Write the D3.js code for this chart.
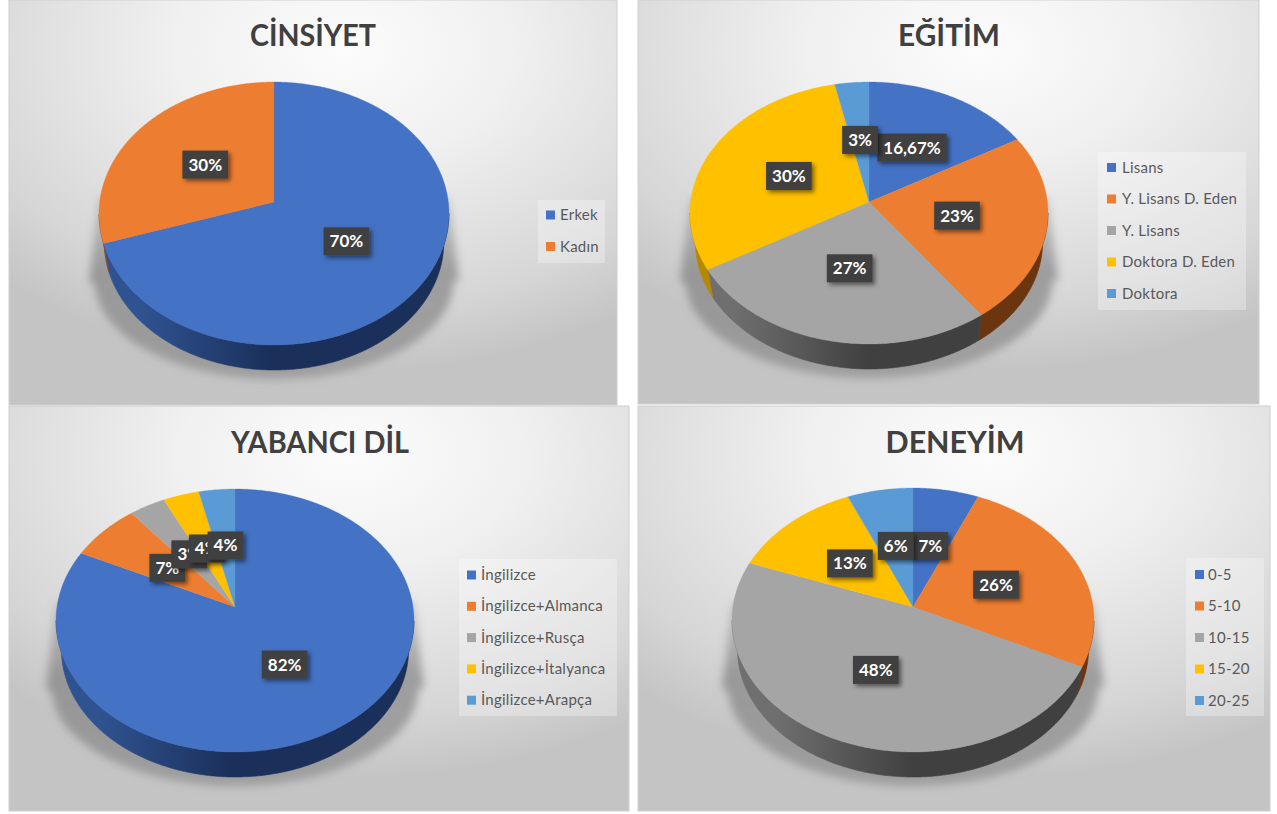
<!DOCTYPE html>
<html><head><meta charset="utf-8">
<script src="https://cdnjs.cloudflare.com/ajax/libs/d3/7.8.5/d3.min.js"></script>
<style>html,body{margin:0;padding:0;background:#fff}svg{display:block}text{font-family:Lato,"Noto Sans",sans-serif}</style>
</head><body><svg id="c" width="1277" height="814"></svg>
<script>
// ---- data ----
const titles = ["CİNSİYET","EĞİTİM","YABANCI DİL","DENEYİM"];
const cinsiyetCats = ["Erkek","Kadın"];
const cinsiyetVals = [70,30];
const cinsiyetLabels = ["70%","30%"];
const egitimCats = ["Lisans","Y. Lisans D. Eden","Y. Lisans","Doktora D. Eden","Doktora"];
const egitimVals = [16.67,23.33,26.67,30,3.33];
const egitimLabels = ["16,67%","23%","27%","30%","3%"];
const dilCats = ["İngilizce","İngilizce+Almanca","İngilizce+Rusça","İngilizce+İtalyanca","İngilizce+Arapça"];
const dilVals = [82.1,7.1,3.6,3.6,3.6];
const dilLabels = ["82%","7%","3%","4%","4%"];
const deneyimCats = ["0-5","5-10","10-15","15-20","20-25"];
const deneyimVals = [6.45,25.8,48.4,12.9,6.45];
const deneyimLabels = ["7%","26%","48%","13%","6%"];
const colors = ["#4472C4","#ED7D31","#A5A5A5","#FFC000","#5B9BD5"];
const wallLeft = ["#2f5391","#8a4a1c","#6f6f6f","#b58800","#3a6ea0"];
const wallRight = ["#1a2f59","#6a350f","#404040","#8a6800","#2a5078"];

// ---- layout ----
const layouts = [
 {x:9,y:0,w:608,h:405,cx:274,rx:175,top:82,bot:345,pc:202,depth:25,tx:313,ty:46,tw:126,
  lg:{x:538,y:200,w:67,h:63,mx:546,tx:560,y0:215,dy:31.5}},
 {x:638,y:0,w:621,h:404,cx:869,rx:179,top:82,bot:344,pc:202,depth:25,tx:949,ty:46,tw:102,
  lg:{x:1098,y:152,w:148,h:158,mx:1107,tx:1122,y0:167.5,dy:31.5}},
 {x:9,y:406,w:620,h:405,cx:235,rx:179,top:489,bot:752,pc:607,depth:25,tx:320,ty:453,tw:178,
  lg:{x:459,y:559,w:158,h:157,mx:467,tx:481,y0:575,dy:31.3}},
 {x:638,y:406,w:632,h:405,cx:913,rx:181,top:488,bot:752,pc:607,depth:25,tx:955,ty:453,tw:139,
  lg:{x:1186,y:558,w:78,h:158,mx:1195,tx:1208,y0:574.5,dy:31.5}}
];
const charts = [
 {cats:cinsiyetCats,vals:cinsiyetVals,labels:cinsiyetLabels},
 {cats:egitimCats,vals:egitimVals,labels:egitimLabels},
 {cats:dilCats,vals:dilVals,labels:dilLabels},
 {cats:deneyimCats,vals:deneyimVals,labels:deneyimLabels}
];

const svg = d3.select("#c");
const defs = svg.append("defs");
const bg = defs.append("radialGradient").attr("id","bg").attr("cx","55%").attr("cy","12%").attr("r","80%");
[[0,"#fcfcfc"],[0.35,"#f0f0f0"],[0.8,"#d6d6d6"],[1,"#c4c4c4"]].forEach(s=>bg.append("stop").attr("offset",s[0]).attr("stop-color",s[1]));
const sh = defs.append("filter").attr("id","boxshadow").attr("x","-30%").attr("y","-30%").attr("width","170%").attr("height","170%");
sh.append("feDropShadow").attr("dx",2.5).attr("dy",2.5).attr("stdDeviation",2).attr("flood-color","#000").attr("flood-opacity",.5);
const blur = defs.append("filter").attr("id","blur").attr("x","-20%").attr("y","-20%").attr("width","140%").attr("height","140%");
blur.append("feGaussianBlur").attr("stdDeviation",4);

const line = d3.line().curve(d3.curveLinear);
const pie = d3.pie().sort(null).value(d=>d);

charts.forEach((ch,ci)=>{
  const L = layouts[ci];
  const g = svg.append("g");
  g.append("rect").attr("x",L.x).attr("y",L.y).attr("width",L.w).attr("height",L.h)
    .attr("fill","url(#bg)").attr("stroke","#cfcfcf").attr("stroke-width",1);

  g.append("text").attr("x",L.tx).attr("y",L.ty).attr("text-anchor","middle")
    .attr("font-size",31).attr("font-weight",700).attr("fill","#404040")
    .attr("textLength",L.tw).attr("lengthAdjust","spacingAndGlyphs").text(titles[ci]);

  const ecy = (L.top+L.bot)/2, ry = (L.bot-L.top)/2, k = (L.pc-ecy)/ry;
  const botScale = .97, ecy2 = L.bot + L.depth - ry*botScale;
  const q = Math.sqrt(1-k*k);
  // perspective mapping of the unit disc onto the ellipse
  const unit = (a,r)=>{const u=r*Math.sin(a), v=-r*Math.cos(a), d=1+k*v; return [u*q/d,(v+k)/d];};
  const top = p=>[L.cx+L.rx*p[0], ecy+ry*p[1]];
  const bottom = p=>[L.cx+L.rx*botScale*p[0], ecy2+ry*botScale*p[1]];

  // cast shadow
  const shadowGrad = defs.append("linearGradient").attr("id","sg"+ci).attr("x1",0).attr("x2",0).attr("y1",0).attr("y2",1);
  [[0,"#808080",.3],[.4,"#707070",.58],[1,"#808080",.55]].forEach(s=>shadowGrad.append("stop").attr("offset",s[0]).attr("stop-color",s[1]).attr("stop-opacity",s[2]));
  const ts = d3.range(0,Math.PI+.001,.05);
  const sy = ecy2+ry*botScale+9;
  const shadowPts = [[L.cx-L.rx,L.pc-5],[L.cx-L.rx-10,ecy+68]]
    .concat(ts.slice().reverse().map(t=>[L.cx+(L.rx+10)*Math.cos(t)*.97, ecy+68+(sy-ecy-68)*Math.sin(t)]))
    .concat([[L.cx+L.rx+10,ecy+68],[L.cx+L.rx,L.pc-5]]);
  g.append("path").attr("d",line(shadowPts)+"Z").attr("fill","url(#sg"+ci+")").attr("filter","url(#blur)");

  const arcs = pie(ch.vals);

  // side walls
  arcs.forEach((d,i)=>{
    const wg = defs.append("linearGradient").attr("id",`w${ci}_${i}`).attr("gradientUnits","userSpaceOnUse")
      .attr("x1",L.cx-L.rx).attr("x2",L.cx+L.rx).attr("y1",0).attr("y2",0);
    [[0,wallLeft[i]],[.12,wallLeft[i]],[.5,wallRight[i]],[1,wallRight[i]]].forEach(s=>wg.append("stop").attr("offset",s[0]).attr("stop-color",s[1]));
    const n = Math.max(2,Math.ceil((d.endAngle-d.startAngle)/.01));
    const pts = d3.range(n+1).map(j=>unit(d.startAngle+(d.endAngle-d.startAngle)*j/n,1)).filter(p=>p[1]>=0);
    if(pts.length<2) return;
    const poly = pts.map(top).concat(pts.slice().reverse().map(bottom));
    g.append("path").attr("d",line(poly)+"Z").attr("fill",`url(#w${ci}_${i})`)
      .attr("stroke",`url(#w${ci}_${i})`).attr("stroke-width",.6);
  });

  // top slices
  arcs.forEach((d,i)=>{
    const n = Math.max(2,Math.ceil((d.endAngle-d.startAngle)/.01));
    const pts = [top(unit(0,0))].concat(d3.range(n+1).map(j=>top(unit(d.startAngle+(d.endAngle-d.startAngle)*j/n,1))));
    g.append("path").attr("d",line(pts)+"Z").attr("fill",colors[i]).attr("stroke",colors[i]).attr("stroke-width",.3);
  });

  // data labels
  arcs.forEach((d,i)=>{
    const c = top(unit((d.startAngle+d.endAngle)/2,.5));
    const lab = g.append("g");
    const rect = lab.append("rect").attr("fill","#404040").attr("filter","url(#boxshadow)");
    const t = lab.append("text").attr("x",c[0]).attr("y",c[1]+6).attr("text-anchor","middle")
      .attr("font-size",17).attr("font-weight",700).attr("fill","#fff").text(ch.labels[i]);
    const w = t.node().getComputedTextLength()+12, h = 28;
    rect.attr("x",c[0]-w/2).attr("y",c[1]-h/2).attr("width",w).attr("height",h);
  });

  // legend
  const lg = g.append("g");
  lg.append("rect").attr("x",L.lg.x).attr("y",L.lg.y).attr("width",L.lg.w).attr("height",L.lg.h)
    .attr("fill","#fff").attr("fill-opacity",.3);
  ch.cats.forEach((c,i)=>{
    const yy = L.lg.y0 + i*L.lg.dy;
    lg.append("rect").attr("x",L.lg.mx).attr("y",yy-4.5).attr("width",9).attr("height",9).attr("fill",colors[i]);
    lg.append("text").attr("x",L.lg.tx).attr("y",yy+5).attr("font-size",15).attr("letter-spacing",.25)
      .attr("fill","#595959").text(c);
  });
});
</script></body></html>
